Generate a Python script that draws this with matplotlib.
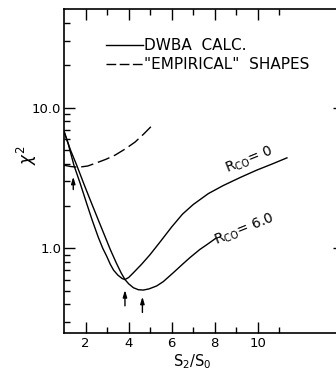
import numpy as np
import matplotlib
matplotlib.use('Agg')
import matplotlib.pyplot as plt
from matplotlib.ticker import FixedLocator, FixedFormatter, NullFormatter

# curves (S2/S0, chi^2)
x_r0 = [1.0, 1.2, 1.46, 1.75, 2.05, 2.3, 2.59, 2.8, 2.98, 3.15, 3.3, 3.5, 3.7, 3.83,
        4.0, 4.22, 4.6, 4.99, 5.46, 6.0, 6.5, 7.0, 7.7, 8.4, 9.2, 9.95, 10.7, 11.35]
y_r0 = [6.8, 5.5, 3.9, 2.9, 2.09, 1.6, 1.2, 1.0, 0.88, 0.77, 0.7, 0.645, 0.61, 0.6,
        0.62, 0.67, 0.77, 0.9, 1.11, 1.42, 1.75, 2.05, 2.45, 2.8, 3.2, 3.6, 4.0, 4.4]

x_r6 = [1.0, 1.3, 1.59, 1.95, 2.28, 2.6, 2.87, 3.15, 3.44, 3.65, 3.83, 4.0, 4.22, 4.45,
        4.68, 4.95, 5.3, 5.61, 6.07, 6.5, 6.85, 7.3, 7.7, 8.05]
y_r6 = [6.8, 5.0, 3.9, 2.8, 2.09, 1.58, 1.25, 0.98, 0.78, 0.67, 0.6, 0.56, 0.525, 0.508,
        0.505, 0.515, 0.54, 0.58, 0.67, 0.77, 0.86, 0.98, 1.08, 1.18]

x_emp = [1.0, 1.3, 1.66, 2.1, 2.52, 2.95, 3.37, 3.85, 4.3, 4.7, 5.1]
y_emp = [3.9, 3.82, 3.77, 3.85, 4.06, 4.3, 4.6, 5.1, 5.7, 6.5, 7.5]

# arrows marking the minima: (x, tip, tail)
arrows = [(1.43, 3.23, 2.62), (3.83, 0.505, 0.39), (4.64, 0.453, 0.35)]

xmajor = [2, 4, 6, 8, 10]
xminor = [3, 5, 7, 9, 11]
xlabels = ['2', '4', '6', '8', '10']
ymajor = [1.0, 10.0]
ylabels = ['1.0', '10.0']
yminor = [0.3, 0.4, 0.5, 0.6, 0.7, 0.8, 0.9, 2, 3, 4, 5, 6, 7, 8, 9, 20, 30, 40]

fig = plt.figure(figsize=(3.36, 3.74), dpi=100)
ax = fig.add_axes([0.1905, 0.1096, 0.8333, 0.8652])
ax.set_yscale('log')
ax.set_xlim(1, 14)
ax.set_ylim(0.25, 50)

ax.plot(x_r0, y_r0, color='black', lw=1.0)
ax.plot(x_r6, y_r6, color='black', lw=1.0)
ax.plot(x_emp, y_emp, color='black', lw=1.0, dashes=(9, 3.5))

for xa, tip, tail in arrows:
    ax.annotate('', xy=(xa, tip), xytext=(xa, tail),
                arrowprops=dict(arrowstyle='-|>,head_length=0.4,head_width=0.12',
                                color='black', lw=1.0, shrinkA=0, shrinkB=0))

ax.text(9.59, 4.24, r'R$_\mathrm{CO}$= 0', rotation=22, ha='center', va='center',
        fontsize=10, rotation_mode='anchor')
ax.text(9.40, 1.37, r'R$_\mathrm{CO}$= 6.0', rotation=22, ha='center', va='center',
        fontsize=10, rotation_mode='anchor')

# legend drawn by hand
ax.plot([0.15, 0.282], [0.89, 0.89], color='black', lw=1.0, transform=ax.transAxes)
ax.plot([0.15, 0.282], [0.831, 0.831], color='black', lw=1.0, dashes=(7, 2.5),
        transform=ax.transAxes)
ax.text(0.285, 0.89, 'DWBA  CALC.', transform=ax.transAxes, fontsize=11, va='center')
ax.text(0.285, 0.831, '"EMPIRICAL"  SHAPES', transform=ax.transAxes, fontsize=11, va='center')

ax.xaxis.set_major_locator(FixedLocator(xmajor))
ax.xaxis.set_major_formatter(FixedFormatter(xlabels))
ax.xaxis.set_minor_locator(FixedLocator(xminor))
ax.yaxis.set_major_locator(FixedLocator(ymajor))
ax.yaxis.set_major_formatter(FixedFormatter(ylabels))
ax.yaxis.set_minor_locator(FixedLocator(yminor))
ax.yaxis.set_minor_formatter(NullFormatter())

ax.tick_params(which='both', direction='in', top=True, right=True, width=1.0, labelsize=9.5)
ax.tick_params(which='major', length=8, pad=2)
ax.tick_params(which='minor', length=4.5)
ax.tick_params(axis='x', pad=3)
for s in ax.spines.values():
    s.set_linewidth(1.2)

ax.set_xlabel(r'S$_2$/S$_0$', fontsize=10.5)
ax.xaxis.set_label_coords((6.94 - 1) / 13, -0.06)
fig.text(27 / 336, 1 - 155 / 374, r'$\chi^2$', fontsize=12, rotation=90,
         ha='center', va='center')

fig.savefig('out.png', dpi=100)
plt.close('all')
